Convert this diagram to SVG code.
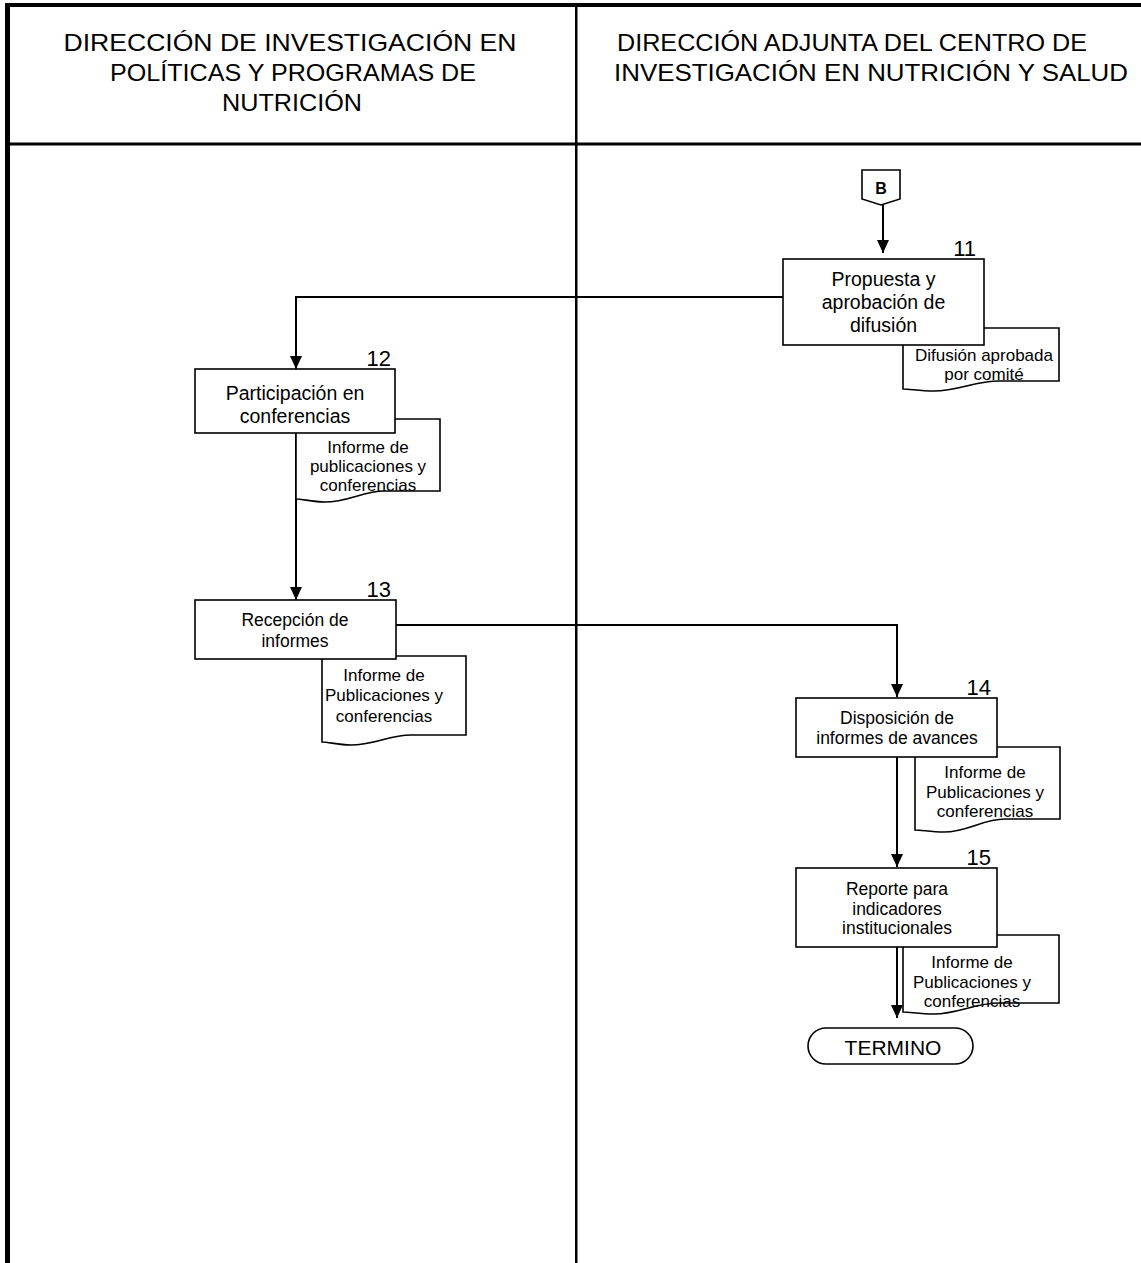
<svg xmlns="http://www.w3.org/2000/svg" width="1141" height="1263" viewBox="0 0 1141 1263">
<style>
text{font-family:"Liberation Sans",Arial,sans-serif;fill:#000}
.hd{font-size:24.5px;text-anchor:middle}
.bx{font-size:19.5px;text-anchor:middle}
.bs{font-size:17.5px;text-anchor:middle}
.dt{font-size:17px;text-anchor:middle}
.num{font-size:22px;text-anchor:end}
.box{fill:#fff;stroke:#000;stroke-width:1.6}
.doc{fill:#fff;stroke:#000;stroke-width:1.6}
.con{fill:none;stroke:#000;stroke-width:2}
</style>
<defs>
<marker id="ah" markerUnits="userSpaceOnUse" markerWidth="13" markerHeight="12" refX="13" refY="6" orient="auto">
<path d="M0,0 L13,6 L0,12 z" fill="#000"/>
</marker>
</defs>
<rect width="1141" height="1263" fill="#fff"/>
<g id="lanes">
<rect x="5" y="3" width="1136" height="4" fill="#000"/>
<rect x="5" y="3" width="5" height="1260" fill="#000"/>
<rect x="7" y="142.5" width="1134" height="3" fill="#000"/>
<rect x="575" y="3" width="2.5" height="1260" fill="#000"/>
<text class="hd" x="290" y="51" textLength="453" lengthAdjust="spacingAndGlyphs">DIRECCIÓN DE INVESTIGACIÓN EN</text>
<text class="hd" x="293" y="81" textLength="366" lengthAdjust="spacingAndGlyphs">POLÍTICAS Y PROGRAMAS DE</text>
<text class="hd" x="292" y="111" textLength="140" lengthAdjust="spacingAndGlyphs">NUTRICIÓN</text>
<text class="hd" x="852" y="51" textLength="470" lengthAdjust="spacingAndGlyphs">DIRECCIÓN ADJUNTA DEL CENTRO DE</text>
<text class="hd" x="871" y="81" textLength="514" lengthAdjust="spacingAndGlyphs">INVESTIGACIÓN EN NUTRICIÓN Y SALUD</text>
</g>
<g id="connectors">
<path class="con" d="M883,205 V253" marker-end="url(#ah)"/>
<path class="con" d="M783,297 H296 V369" marker-end="url(#ah)"/>
<path class="con" d="M296,433 V600" marker-end="url(#ah)"/>
<path class="con" d="M396,625 H897 V697" marker-end="url(#ah)"/>
<path class="con" d="M897,757 V867" marker-end="url(#ah)"/>
<path class="con" d="M897,947 V1018" marker-end="url(#ah)"/>
</g>
<g id="offpage-B">
<path class="box" d="M862,170 H900 V199 L881,205 L862,199 Z"/>
<text x="881" y="194" style="font-size:16px;font-weight:bold;text-anchor:middle">B</text>
</g>
<g id="node11">
<path class="doc" d="M903,328 H1059 V381 L999,381 C975,381 958,391 934,391 C920,391 910,389 903,389 Z"/>
<text class="dt" x="984" y="361">Difusión aprobada</text>
<text class="dt" x="984" y="380">por comité</text>
<rect class="box" x="783" y="259" width="201" height="86"/>
<text class="bx" x="883.5" y="286">Propuesta y</text>
<text class="bx" x="883.5" y="309">aprobación de</text>
<text class="bx" x="883.5" y="332">difusión</text>
<text class="num" x="976" y="256">11</text>
</g>
<g id="node12">
<path class="doc" d="M296,419 H440 V491 L385,491 C363,491 348,502 325,502 C312,502 303,499 296,499 Z"/>
<text class="dt" x="368" y="453">Informe de</text>
<text class="dt" x="368" y="472">publicaciones y</text>
<text class="dt" x="368" y="491">conferencias</text>
<rect class="box" x="195" y="369" width="200" height="64"/>
<text class="bx" x="295" y="400">Participación en</text>
<text class="bx" x="295" y="423">conferencias</text>
<text class="num" x="391" y="366">12</text>
</g>
<g id="node13">
<path class="doc" d="M322,656 H466 V735 L411,735 C389,735 374,745 351,745 C338,745 329,742 322,742 Z"/>
<text class="dt" x="384" y="680.5">Informe de</text>
<text class="dt" x="384" y="701">Publicaciones y</text>
<text class="dt" x="384" y="721.5">conferencias</text>
<rect class="box" x="195" y="600" width="201" height="59"/>
<text class="bs" x="295" y="626">Recepción de</text>
<text class="bs" x="295" y="647">informes</text>
<text class="num" x="391" y="597">13</text>
</g>
<g id="node14">
<path class="doc" d="M915,747 H1060 V819 L1005,819 C983,819 967,832 944,832 C931,832 922,830 915,830 Z"/>
<text class="dt" x="985" y="778">Informe de</text>
<text class="dt" x="985" y="798">Publicaciones y</text>
<text class="dt" x="985" y="817">conferencias</text>
<rect class="box" x="796" y="698" width="201" height="59"/>
<text class="bs" x="897" y="723.5">Disposición de</text>
<text class="bs" x="897" y="743.5">informes de avances</text>
<text class="num" x="991" y="695">14</text>
</g>
<g id="node15">
<path class="doc" d="M903,935 H1059 V1003 L999,1003 C975,1003 958,1014 934,1014 C920,1014 910,1012 903,1012 Z"/>
<text class="dt" x="972" y="968">Informe de</text>
<text class="dt" x="972" y="988">Publicaciones y</text>
<text class="dt" x="972" y="1007">conferencias</text>
<rect class="box" x="796" y="868" width="201" height="79"/>
<text class="bs" x="897" y="895">Reporte para</text>
<text class="bs" x="897" y="914.5">indicadores</text>
<text class="bs" x="897" y="934">institucionales</text>
<text class="num" x="991" y="865">15</text>
</g>
<g id="termino">
<rect class="box" x="808" y="1028" width="165" height="36" rx="18" ry="18"/>
<text x="893" y="1055" style="font-size:21px;text-anchor:middle">TERMINO</text>
</g>
</svg>
